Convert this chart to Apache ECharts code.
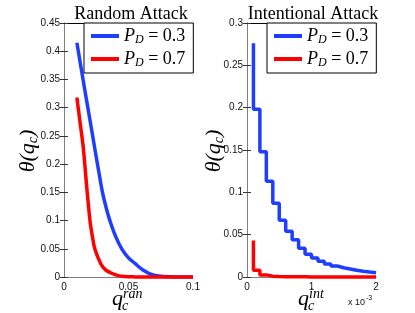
<!DOCTYPE html>
<html><head><meta charset="utf-8">
<script src="https://cdn.jsdelivr.net/npm/echarts@6/dist/echarts.min.js"></script>
<style>html,body{margin:0;padding:0;background:#fff}#c{width:415px;height:313px}</style>
</head><body><div id="c"></div>
<script>
// Random attack (left panel)
const ranQ     = [0.010, 0.0125, 0.015, 0.0176, 0.0202, 0.022, 0.024, 0.0284, 0.032, 0.037, 0.042, 0.047, 0.055, 0.07, 0.1];
const ranPD07  = [0.318, 0.273, 0.228, 0.160, 0.099, 0.072, 0.049, 0.024, 0.013, 0.0066, 0.0025, 0.0008, 0.0002, 0, 0];
const ranQb    = [0.010, 0.0157, 0.020, 0.024, 0.027, 0.030, 0.033, 0.0357, 0.040, 0.045, 0.050, 0.055, 0.0615, 0.069, 0.078, 0.09, 0.1];
const ranPD03  = [0.415, 0.337, 0.280, 0.226, 0.186, 0.148, 0.120, 0.099, 0.072, 0.049, 0.034, 0.024, 0.012, 0.0035, 0.0008, 0.0001, 0];
// Intentional attack (right panel), q in units of 1e-3
const intQ     = [0.1,0.2,0.3,0.4,0.5,0.6,0.7,0.8,0.9,1.0,1.1,1.2,1.3,1.4,1.5,1.6,1.7,1.8,1.9,2.0];
const intPD03  = [0.276,0.198,0.148,0.113,0.087,0.067,0.054,0.044,0.034,0.027,0.0225,0.0185,0.0155,0.013,0.011,0.0095,0.008,0.0068,0.0058,0.005];
const intPD07  = [0.043,0.008,0.0025,0.001,0.0006,0.0004,0.0003,0.0002,0.0002,0.0001,0.0001,0.0001,0.0001,0.0001,0.0001,0.0001,0.0001,0.0001,0.0001,0.0001];
const names = ['P_D = 0.3', 'P_D = 0.7'];
const titles = ['Random Attack', 'Intentional Attack'];

const zip = (a, b) => a.map((v, i) => [v, b[i]]);
const serif = 'Liberation Serif';
const sans = 'Liberation Sans';
const axisGray = '#7f7f7f';

function legendCfg(left) {
  return {
    left: left, top: 23, orient: 'vertical',
    backgroundColor: '#fff', borderColor: '#000', borderWidth: 1, borderRadius: 0,
    padding: [4, 8, 4, 7], itemGap: 4, itemWidth: 28, itemHeight: 4, icon: 'rect',
    data: names,
    formatter: n => '{p|P}{d|D}{t| = ' + n.split('= ')[1] + '}',
    textStyle: { color: '#000', rich: {
      p: { fontFamily: serif, fontStyle: 'italic', fontSize: 18, lineHeight: 20 },
      d: { fontFamily: serif, fontStyle: 'italic', fontSize: 12, lineHeight: 12, verticalAlign: 'bottom' },
      t: { fontFamily: serif, fontSize: 18, lineHeight: 20 }
    } }
  };
}
function yAx(gi, max) {
  return [{
    gridIndex: gi, type: 'value', min: 0, max: max, interval: 0.05,
    axisLine: { show: true, lineStyle: { color: axisGray, width: 1 } },
    axisTick: { show: true, inside: true, length: 4, lineStyle: { color: '#333' } },
    axisLabel: { color: '#111', fontFamily: sans, fontSize: 10, margin: 4 },
    splitLine: { show: false }
  }, {
    gridIndex: gi, type: 'value', min: 0, max: max, interval: 0.05, position: 'right',
    axisLine: { show: true, lineStyle: { color: axisGray, width: 1 } },
    axisTick: { show: true, inside: true, length: 4, lineStyle: { color: '#333' } },
    axisLabel: { show: false }, splitLine: { show: false }
  }];
}
function xAx(gi, max, interval) {
  return [{
    gridIndex: gi, type: 'value', min: 0, max: max, interval: interval,
    axisLine: { show: true, onZero: false, lineStyle: { color: axisGray, width: 1 } },
    axisTick: { show: false },
    axisLabel: { color: '#111', fontFamily: sans, fontSize: 10, margin: 5 },
    splitLine: { show: false }
  }, {
    gridIndex: gi, type: 'value', min: 0, max: max, interval: interval, position: 'top',
    axisLine: { show: true, onZero: false, lineStyle: { color: '#000', width: 1 } },
    axisTick: { show: false }, axisLabel: { show: false }, splitLine: { show: false }
  }];
}
function lineSeries(name, xi, yi, data, color, step) {
  const s = {
    name: name, type: 'line', xAxisIndex: xi, yAxisIndex: yi, data: data,
    showSymbol: false, symbol: 'none', clip: false,
    lineStyle: { color: color, width: 3.5 }, itemStyle: { color: color }
  };
  if (step) s.step = 'start'; else { s.smooth = 0.35; }
  return s;
}
const mathRich = {
  a: { fontFamily: serif, fontStyle: 'italic', fontSize: 22, lineHeight: 24 },
  s: { fontFamily: serif, fontStyle: 'italic', fontSize: 14, lineHeight: 14, verticalAlign: 'bottom' }
};
function yName(x) {
  return { type: 'text', x: x, y: 151, rotation: Math.PI / 2,
    style: { text: '{a|θ(q}{s|c}{a|)}', rich: mathRich, align: 'center', verticalAlign: 'middle', fill: '#000' } };
}
function xName(x, sup) {
  return { type: 'group', x: x, y: 0, children: [
    { type: 'text', x: 0, y: 299, style: { text: 'q', fontFamily: serif, fontStyle: 'italic', fontSize: 22, fill: '#000', verticalAlign: 'middle' } },
    { type: 'text', x: 10, y: 306, style: { text: 'c', fontFamily: serif, fontStyle: 'italic', fontSize: 14, fill: '#000', verticalAlign: 'middle' } },
    { type: 'text', x: 11, y: 294, style: { text: sup, fontFamily: serif, fontStyle: 'italic', fontSize: 14, fill: '#000', verticalAlign: 'middle' } }
  ] };
}

const xs = xAx(0, 0.1, 0.05).concat(xAx(1, 2, 1));
const ys = yAx(0, 0.45).concat(yAx(1, 0.3));
const option = {
  animation: false,
  backgroundColor: '#fff',
  title: [
    { text: titles[0], left: 126, top: 0, textAlign: 'center', textStyle: { fontFamily: serif, fontWeight: 'normal', fontSize: 18, color: '#000' } },
    { text: titles[1], left: 308, top: 0, textAlign: 'center', textStyle: { fontFamily: serif, fontWeight: 'normal', fontSize: 18, color: '#000' } }
  ],
  legend: [legendCfg(84), legendCfg(267)],
  grid: [
    { left: 64, right: 222, top: 23, bottom: 36 },
    { left: 247, right: 39, top: 23, bottom: 36 }
  ],
  xAxis: xs,
  yAxis: ys,
  series: [
    lineSeries(names[0], 0, 0, zip(ranQb, ranPD03), '#1f3dff', false),
    lineSeries(names[1], 0, 0, zip(ranQ, ranPD07), '#ff0000', false),
    lineSeries(names[0], 2, 2, zip(intQ, intPD03), '#1f3dff', true),
    lineSeries(names[1], 2, 2, zip(intQ, intPD07), '#ff0000', true)
  ],
  graphic: [
    yName(28), yName(214),
    xName(112, 'ran'), xName(298, 'int'),
    { type: 'group', x: 0, y: 0, children: [
      { type: 'text', x: 348, y: 303, style: { text: 'x 10', fontFamily: sans, fontSize: 9, fill: '#111', verticalAlign: 'middle' } },
      { type: 'text', x: 366, y: 298, style: { text: '-3', fontFamily: sans, fontSize: 7, fill: '#111', verticalAlign: 'middle' } }
    ] }
  ]
};
const chart = echarts.init(document.getElementById('c'), null, { renderer: 'canvas' });
chart.setOption(option);
</script>
</body></html>
